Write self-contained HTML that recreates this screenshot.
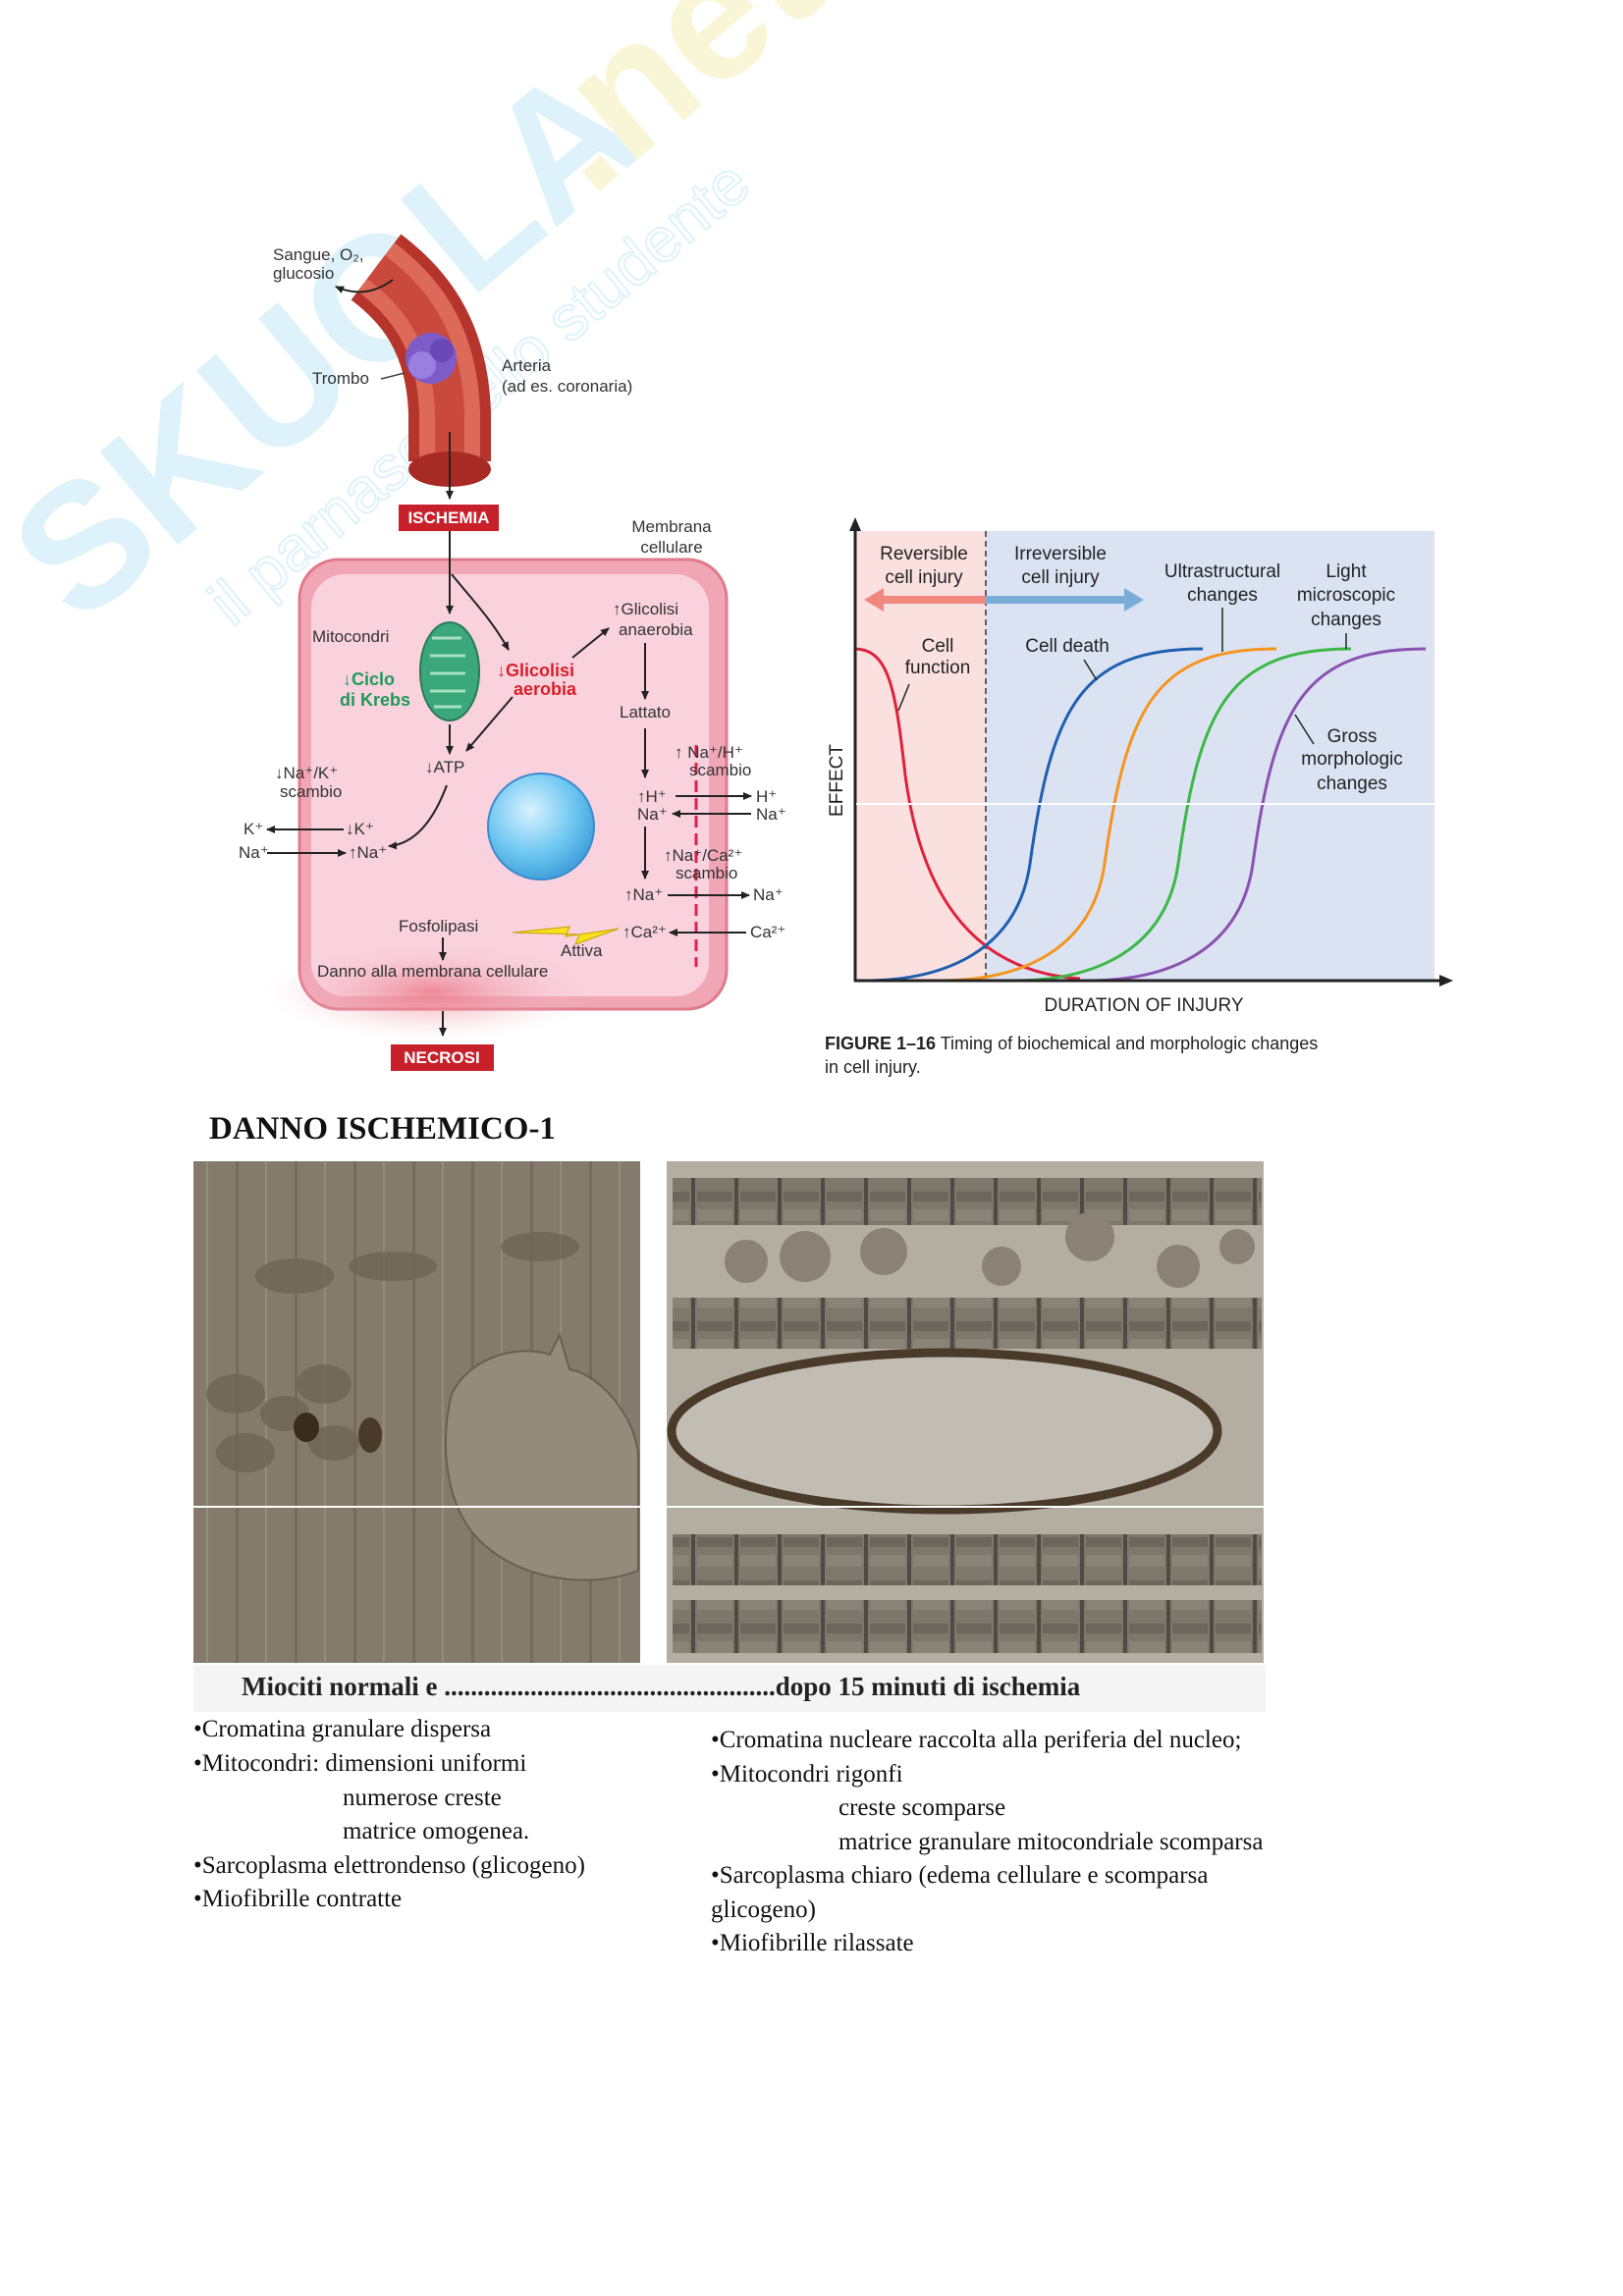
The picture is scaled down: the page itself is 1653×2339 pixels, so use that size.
<!DOCTYPE html>
<html><head><meta charset="utf-8"><style>
html,body{margin:0;padding:0;background:#fff}
svg{display:block}
text{font-family:"Liberation Sans",sans-serif}
text.s,.s text{font-family:"Liberation Serif",serif}
</style></head><body>
<svg width="1653" height="2339" viewBox="0 0 1653 2339" xmlns="http://www.w3.org/2000/svg">
<defs>
<marker id="ah" markerWidth="10" markerHeight="10" refX="8" refY="5" orient="auto" markerUnits="userSpaceOnUse"><path d="M0,1 L9,5 L0,9 Z" fill="#222"/></marker>
<radialGradient id="nuc" cx="0.4" cy="0.35" r="0.7"><stop offset="0" stop-color="#d8f2ff"/><stop offset="0.6" stop-color="#6cc6f0"/><stop offset="1" stop-color="#3a9ad8"/></radialGradient>
<radialGradient id="dmg" cx="0.5" cy="0.5" r="0.5"><stop offset="0" stop-color="#e86a7a" stop-opacity="0.7"/><stop offset="1" stop-color="#f8d0dc" stop-opacity="0"/></radialGradient>
<pattern id="pL" width="60" height="40" patternUnits="userSpaceOnUse"><rect width="60" height="40" fill="#857b6c"/><rect x="0" width="3" height="40" fill="#756b5e"/><rect x="30" y="0" width="2" height="40" fill="#958b7c"/></pattern>
<pattern id="pR" width="44" height="44" patternUnits="userSpaceOnUse"><rect width="44" height="44" fill="#7e776c"/><rect x="0" width="4" height="44" fill="#4f4a43"/><rect x="6" y="0" width="36" height="12" fill="#8a8377"/><rect x="6" y="26" width="36" height="10" fill="#6c665c"/></pattern>
</defs>

<!-- watermark -->
<g transform="translate(80,640) rotate(-40)" opacity="0.35">
<text x="0" y="0" font-size="180" font-weight="bold" fill="#9fdcf2">SKUOLA</text>
<text x="680" y="0" font-size="180" font-weight="bold" fill="#f0e890">.net</text>
<text x="120" y="100" font-size="64" fill="none" stroke="#9fdcf2" stroke-width="2">il parnaso dello studente</text>
</g>

<!-- artery -->
<path d="M383,272 C420,300 455,340 458,420 L458,470" fill="none" stroke="#b5352c" stroke-width="84"/>
<path d="M383,272 C420,300 455,340 458,420 L458,470" fill="none" stroke="#dd6a58" stroke-width="62"/>
<path d="M383,272 C420,300 455,340 458,420 L458,470" fill="none" stroke="#c9493c" stroke-width="30"/>
<ellipse cx="458" cy="478" rx="42" ry="18" fill="#a82a24"/>
<circle cx="439" cy="365" r="26" fill="#7d5cc8"/><circle cx="430" cy="372" r="14" fill="#9a7ee0"/><circle cx="450" cy="357" r="12" fill="#6a48b8"/>
<path d="M400,285 C380,300 360,300 342,292" fill="none" stroke="#222" stroke-width="2" marker-end="url(#ah)"/>
<line x1="458" y1="440" x2="458" y2="508" stroke="#222" stroke-width="2" marker-end="url(#ah)"/>
<text x="278" y="265" font-size="17" fill="#333">Sangue, O₂,</text>
<text x="278" y="284" font-size="17" fill="#333">glucosio</text>
<text x="318" y="391" font-size="17" fill="#333">Trombo</text>
<line x1="388" y1="386" x2="412" y2="380" stroke="#444" stroke-width="1.5"/>
<text x="511" y="378" font-size="17" fill="#333">Arteria</text>
<text x="511" y="399" font-size="17" fill="#333">(ad es. coronaria)</text>
<rect x="406" y="514" width="102" height="27" fill="#c8202a"/>
<text x="457" y="533" font-size="17" font-weight="bold" fill="#fff" text-anchor="middle">ISCHEMIA</text>
<text x="684" y="542" font-size="17" fill="#333" text-anchor="middle">Membrana</text>
<text x="684" y="563" font-size="17" fill="#333" text-anchor="middle">cellulare</text>

<!-- cell -->
<rect x="305" y="570" width="435" height="458" rx="40" fill="#f0a6b5" stroke="#e07a8a" stroke-width="3"/>
<rect x="317" y="585" width="405" height="430" rx="34" fill="#f9d2de"/>
<ellipse cx="440" cy="1010" rx="170" ry="50" fill="url(#dmg)"/>
<line x1="709" y1="759" x2="709" y2="985" stroke="#e02050" stroke-width="3" stroke-dasharray="12,6"/>
<line x1="458" y1="541" x2="458" y2="625" stroke="#222" stroke-width="2" marker-end="url(#ah)"/>
<path d="M460,585 C480,610 500,630 518,662" fill="none" stroke="#222" stroke-width="2" marker-end="url(#ah)"/>
<ellipse cx="458" cy="684" rx="30" ry="50" fill="#3aa87a" stroke="#2a7a58" stroke-width="2"/>
<path d="M440,650 h30 M438,668 h36 M438,686 h36 M438,704 h36 M442,720 h28" stroke="#a8e0c4" stroke-width="3"/>
<text x="318" y="654" font-size="17" fill="#333">Mitocondri</text>
<text x="349" y="698" font-size="18" font-weight="bold" fill="#1e9a5a">↓Ciclo</text>
<text x="346" y="719" font-size="18" font-weight="bold" fill="#1e9a5a">di Krebs</text>
<text x="506" y="689" font-size="18" font-weight="bold" fill="#d8202a">↓Glicolisi</text>
<text x="523" y="708" font-size="18" font-weight="bold" fill="#d8202a">aerobia</text>
<path d="M583,670 L620,640" stroke="#222" stroke-width="2" marker-end="url(#ah)"/>
<text x="624" y="626" font-size="17" fill="#333">↑Glicolisi</text>
<text x="630" y="647" font-size="17" fill="#333">anaerobia</text>
<line x1="657" y1="655" x2="657" y2="712" stroke="#222" stroke-width="2" marker-end="url(#ah)"/>
<text x="657" y="731" font-size="17" fill="#333" text-anchor="middle">Lattato</text>
<line x1="657" y1="742" x2="657" y2="792" stroke="#222" stroke-width="2" marker-end="url(#ah)"/>
<line x1="458" y1="738" x2="458" y2="768" stroke="#222" stroke-width="2" marker-end="url(#ah)"/>
<path d="M522,710 L475,765" stroke="#222" stroke-width="2" marker-end="url(#ah)"/>
<text x="433" y="787" font-size="17" fill="#333">↓ATP</text>
<path d="M455,800 C440,840 420,860 396,862" fill="none" stroke="#222" stroke-width="2" marker-end="url(#ah)"/>
<text x="280" y="793" font-size="17" fill="#333">↓Na⁺/K⁺</text>
<text x="285" y="812" font-size="17" fill="#333">scambio</text>
<text x="248" y="850" font-size="17" fill="#333">K⁺</text>
<text x="243" y="874" font-size="17" fill="#333">Na⁺</text>
<text x="352" y="850" font-size="17" fill="#333">↓K⁺</text>
<text x="355" y="874" font-size="17" fill="#333">↑Na⁺</text>
<line x1="350" y1="845" x2="272" y2="845" stroke="#222" stroke-width="2" marker-end="url(#ah)"/>
<line x1="272" y1="869" x2="352" y2="869" stroke="#222" stroke-width="2" marker-end="url(#ah)"/>
<circle cx="551" cy="842" r="54" fill="url(#nuc)" stroke="#3a8ad0" stroke-width="2"/>
<text x="687" y="772" font-size="17" fill="#333">↑ Na⁺/H⁺</text>
<text x="702" y="790" font-size="17" fill="#333">scambio</text>
<text x="649" y="817" font-size="17" fill="#333">↑H⁺</text>
<text x="649" y="835" font-size="17" fill="#333">Na⁺</text>
<text x="770" y="817" font-size="17" fill="#333">H⁺</text>
<text x="770" y="835" font-size="17" fill="#333">Na⁺</text>
<line x1="688" y1="811" x2="765" y2="811" stroke="#222" stroke-width="2" marker-end="url(#ah)"/>
<line x1="765" y1="829" x2="685" y2="829" stroke="#222" stroke-width="2" marker-end="url(#ah)"/>
<line x1="657" y1="842" x2="657" y2="895" stroke="#222" stroke-width="2" marker-end="url(#ah)"/>
<text x="676" y="877" font-size="17" fill="#333">↑Na⁺/Ca²⁺</text>
<text x="688" y="895" font-size="17" fill="#333">scambio</text>
<text x="636" y="917" font-size="17" fill="#333">↑Na⁺</text>
<text x="767" y="917" font-size="17" fill="#333">Na⁺</text>
<line x1="680" y1="912" x2="763" y2="912" stroke="#222" stroke-width="2" marker-end="url(#ah)"/>
<text x="634" y="955" font-size="17" fill="#333">↑Ca²⁺</text>
<text x="764" y="955" font-size="17" fill="#333">Ca²⁺</text>
<line x1="760" y1="950" x2="682" y2="950" stroke="#222" stroke-width="2" marker-end="url(#ah)"/>
<path d="M522,950 L580,944 L576,954 L630,946 L586,962 L590,952 Z" fill="#f6e020" stroke="#c8a000" stroke-width="1"/>
<text x="571" y="974" font-size="17" fill="#333">Attiva</text>
<text x="406" y="949" font-size="17" fill="#333">Fosfolipasi</text>
<line x1="451" y1="955" x2="451" y2="978" stroke="#222" stroke-width="2" marker-end="url(#ah)"/>
<text x="323" y="995" font-size="17" fill="#333">Danno alla membrana cellulare</text>
<line x1="451" y1="1030" x2="451" y2="1055" stroke="#222" stroke-width="2" marker-end="url(#ah)"/>
<rect x="398" y="1064" width="105" height="27" fill="#c8202a"/>
<text x="450" y="1083" font-size="17" font-weight="bold" fill="#fff" text-anchor="middle">NECROSI</text>

<!-- graph -->
<rect x="872" y="541" width="132" height="458" fill="#fbe0e0"/>
<rect x="1004" y="541" width="457" height="458" fill="#dbe3f3"/>
<line x1="1004" y1="541" x2="1004" y2="999" stroke="#333" stroke-width="1.5" stroke-dasharray="6,4"/>
<path d="M1004,611 L895,611" stroke="#f08880" stroke-width="8"/><path d="M880,611 L900,599 L900,623 Z" fill="#f08880"/>
<path d="M1004,611 L1148,611" stroke="#7aacd8" stroke-width="8"/><path d="M1165,611 L1145,599 L1145,623 Z" fill="#7aacd8"/>
<path d="M870,661 C905,661 912,700 922,790 C938,910 990,990 1100,997" fill="none" stroke="#e0203c" stroke-width="3"/>
<path d="M880,999 C960,999 1036,970 1049,880 C1071,720 1101,661 1225,661" fill="none" stroke="#1f5fb0" stroke-width="3"/>
<path d="M957,999 C1037,999 1112,970 1125,880 C1147,720 1177,661 1300,661" fill="none" stroke="#f6941e" stroke-width="3"/>
<path d="M1032,999 C1112,999 1187,970 1200,880 C1222,720 1252,661 1376,661" fill="none" stroke="#3cb846" stroke-width="3"/>
<path d="M1108,999 C1188,999 1263,970 1276,880 C1298,720 1328,661 1452,661" fill="none" stroke="#8a52b0" stroke-width="3"/>
<line x1="870" y1="999" x2="1470" y2="999" stroke="#222" stroke-width="3"/><path d="M1480,999 L1466,993 L1466,1005 Z" fill="#222"/>
<line x1="871" y1="1000" x2="871" y2="535" stroke="#222" stroke-width="3"/><path d="M871,527 L865,541 L877,541 Z" fill="#222"/>
<line x1="872" y1="819" x2="1462" y2="819" stroke="#fff" stroke-width="2"/>
<g font-size="19" fill="#222" text-anchor="middle">
<text x="941" y="570">Reversible</text><text x="941" y="594">cell injury</text>
<text x="1080" y="570">Irreversible</text><text x="1080" y="594">cell injury</text>
<text x="1245" y="588">Ultrastructural</text><text x="1245" y="612">changes</text>
<text x="1371" y="588">Light</text><text x="1371" y="612">microscopic</text><text x="1371" y="637">changes</text>
<text x="955" y="664">Cell</text><text x="955" y="686">function</text>
<text x="1087" y="664">Cell death</text>
<text x="1377" y="756">Gross</text><text x="1377" y="779">morphologic</text><text x="1377" y="804">changes</text>
<text x="1165" y="1030">DURATION OF INJURY</text>
</g>
<line x1="926" y1="697" x2="915" y2="724" stroke="#222" stroke-width="1.5"/>
<line x1="1104" y1="672" x2="1117" y2="693" stroke="#222" stroke-width="1.5"/>
<line x1="1245" y1="619" x2="1245" y2="664" stroke="#222" stroke-width="1.5"/>
<line x1="1371" y1="645" x2="1371" y2="661" stroke="#222" stroke-width="1.5"/>
<line x1="1338" y1="758" x2="1319" y2="728" stroke="#222" stroke-width="1.5"/>
<text transform="translate(858,795) rotate(-90)" font-size="19" fill="#222" text-anchor="middle">EFFECT</text>
<text x="840" y="1069" font-size="18" fill="#222"><tspan font-weight="bold">FIGURE 1–16</tspan>   Timing of biochemical and morphologic changes</text>
<text x="840" y="1093" font-size="18" fill="#222">in cell injury.</text>

<!-- section -->
<text x="213" y="1160" class="s" font-size="33" font-weight="bold" fill="#111">DANNO ISCHEMICO-1</text>
<rect x="197" y="1183" width="455" height="511" fill="url(#pL)"/>
<g fill="#6e6558" opacity="0.8">
<ellipse cx="240" cy="1420" rx="30" ry="20"/><ellipse cx="290" cy="1440" rx="25" ry="18"/><ellipse cx="330" cy="1410" rx="28" ry="20"/><ellipse cx="250" cy="1480" rx="30" ry="20"/><ellipse cx="340" cy="1470" rx="26" ry="18"/><ellipse cx="300" cy="1300" rx="40" ry="18"/><ellipse cx="400" cy="1290" rx="45" ry="15"/><ellipse cx="550" cy="1270" rx="40" ry="15"/>
</g>
<ellipse cx="312" cy="1454" rx="13" ry="15" fill="#3a2c1c"/><ellipse cx="377" cy="1462" rx="12" ry="18" fill="#4a3a2a"/>
<path d="M460,1420 C480,1380 530,1370 560,1380 L570,1360 L580,1395 C610,1400 645,1440 650,1480 L650,1600 C600,1620 520,1610 480,1560 C450,1520 450,1460 460,1420 Z" fill="#958b7b" stroke="#6a6052" stroke-width="2"/>
<rect x="679" y="1183" width="608" height="511" fill="#b4aea2"/>
<rect x="685" y="1200" width="600" height="48" fill="url(#pR)"/>
<rect x="685" y="1322" width="600" height="52" fill="url(#pR)"/>
<rect x="685" y="1563" width="600" height="52" fill="url(#pR)"/>
<rect x="685" y="1630" width="600" height="54" fill="url(#pR)"/>
<g fill="#8a8276"><circle cx="760" cy="1285" r="22"/><circle cx="820" cy="1280" r="26"/><circle cx="900" cy="1275" r="24"/><circle cx="1020" cy="1290" r="20"/><circle cx="1110" cy="1260" r="25"/><circle cx="1200" cy="1290" r="22"/><circle cx="1260" cy="1270" r="18"/></g>
<ellipse cx="962" cy="1458" rx="278" ry="80" fill="#c2bdb2" stroke="#4a3a2a" stroke-width="9"/>
<line x1="197" y1="1535" x2="1287" y2="1535" stroke="#fff" stroke-width="2"/>
<rect x="197" y="1696" width="1092" height="48" fill="#f4f4f4"/>
<text x="246" y="1727" class="s" font-size="27" font-weight="bold" fill="#222">Miociti normali e ..................................................dopo 15 minuti di ischemia</text>
<g class="s" font-size="25" fill="#111">
<text x="197" y="1769">•Cromatina granulare dispersa</text>
<text x="197" y="1804">•Mitocondri: dimensioni uniformi</text>
<text x="349" y="1839">numerose creste</text>
<text x="349" y="1873">matrice omogenea.</text>
<text x="197" y="1908">•Sarcoplasma elettrondenso (glicogeno)</text>
<text x="197" y="1942">•Miofibrille contratte</text>
<text x="724" y="1780">•Cromatina nucleare raccolta alla periferia del nucleo;</text>
<text x="724" y="1815">•Mitocondri rigonfi</text>
<text x="854" y="1849">creste scomparse</text>
<text x="854" y="1884">matrice granulare mitocondriale scomparsa</text>
<text x="724" y="1918">•Sarcoplasma chiaro (edema cellulare e scomparsa</text>
<text x="724" y="1953">glicogeno)</text>
<text x="724" y="1987">•Miofibrille rilassate</text>
</g>
</svg>
</body></html>
